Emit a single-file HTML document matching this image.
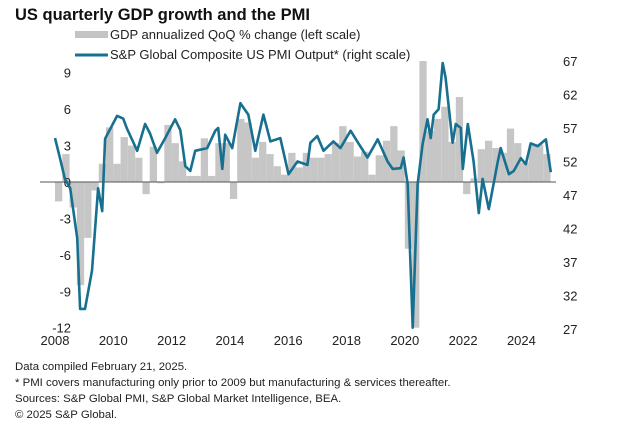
<!DOCTYPE html>
<html><head><meta charset="utf-8"><style>
body{margin:0;background:#fff;width:642px;height:433px;overflow:hidden;font-family:"Liberation Sans",sans-serif}
svg{display:block}
</style></head><body>
<svg id="chart" width="642" height="433">
<text x="15" y="20" font-size="16.5" font-weight="bold" fill="#111">US quarterly GDP growth and the PMI</text>
<g>
<rect x="75" y="31" width="33" height="7" fill="#c4c4c4"/>
<text x="110" y="39" font-size="13" fill="#222">GDP annualized QoQ % change (left scale)</text>
<line x1="75" y1="55" x2="108" y2="55" stroke="#17708f" stroke-width="3"/>
<text x="110" y="59" font-size="13" fill="#222">S&amp;P Global Composite US PMI Output* (right scale)</text>
</g>
<g id="bars"></g><g id="axes"></g><g id="line"></g>
<g font-size="11.4" fill="#222">
<text x="15" y="370">Data compiled February 21, 2025.</text>
<text x="15" y="386">* PMI covers manufacturing only prior to 2009 but manufacturing &amp; services thereafter.</text>
<text x="15" y="402">Sources: S&amp;P Global PMI, S&amp;P Global Market Intelligence, BEA.</text>
<text x="15" y="418">© 2025 S&amp;P Global.</text>
</g>
</svg>
<script>
const gdpQuarters=[2008,2008.25,2008.5,2008.75,2009,2009.25,2009.5,2009.75,2010,2010.25,2010.5,2010.75,2011,2011.25,2011.5,2011.75,2012,2012.25,2012.5,2012.75,2013,2013.25,2013.5,2013.75,2014,2014.25,2014.5,2014.75,2015,2015.25,2015.5,2015.75,2016,2016.25,2016.5,2016.75,2017,2017.25,2017.5,2017.75,2018,2018.25,2018.5,2018.75,2019,2019.25,2019.5,2019.75,2020,2020.25,2020.5,2020.75,2021,2021.25,2021.5,2021.75,2022,2022.25,2022.5,2022.75,2023,2023.25,2023.5,2023.75,2024,2024.25,2024.5,2024.75];
const gdpValues=[-1.6,2.3,-2.1,-8.5,-4.6,-0.7,1.5,4.5,1.5,3.7,3.0,2.0,-1.0,2.9,-0.1,4.7,3.2,1.7,0.5,0.5,3.6,0.5,3.2,3.2,-1.4,5.2,4.9,2.0,3.3,2.3,1.3,0.6,2.4,1.2,2.4,2.0,2.0,2.3,3.2,4.6,3.3,2.1,2.5,0.6,2.2,3.4,4.6,2.6,-5.5,-28.0,35.0,4.2,5.2,6.2,3.3,7.0,-1.0,0.3,2.7,3.4,2.8,2.4,4.4,3.2,1.6,3.0,3.1,2.3];
const pmiDates=[2008.0,2008.17,2008.34,2008.52,2008.76,2008.86,2009.03,2009.27,2009.48,2009.62,2009.72,2010.13,2010.34,2010.47,2010.82,2011.09,2011.26,2011.5,2011.78,2012.12,2012.3,2012.47,2012.64,2012.81,2013.22,2013.5,2013.6,2013.74,2013.84,2014.08,2014.36,2014.63,2014.87,2015.15,2015.39,2015.73,2016.01,2016.32,2016.66,2016.76,2017.0,2017.21,2017.55,2017.79,2018.14,2018.41,2018.72,2019.07,2019.41,2019.58,2019.86,2019.96,2020.1,2020.27,2020.44,2020.61,2020.78,2020.89,2020.99,2021.16,2021.3,2021.4,2021.64,2021.75,2021.92,2021.99,2022.16,2022.36,2022.54,2022.67,2022.88,2023.19,2023.29,2023.57,2023.74,2023.98,2024.15,2024.32,2024.56,2024.84,2025.01];
const pmiValues=[55.5,52.5,49.4,48,40.6,30,30,35.7,48,44.6,55.4,58.8,58.4,56.9,53.6,57.6,56.2,53.3,55.5,58.3,56.7,51.3,50.6,53.6,54,56.6,57,50.9,56,54,60.7,59,53.6,59,55,55.5,50.1,52,51.5,54.8,55.8,53.6,55,54,56.6,54.7,52.6,55.3,52,50.9,51,52.6,48.6,27.2,48.6,54.6,58.3,55.5,59,59.8,66.7,64.5,54.8,57.6,57,50.9,57.6,52,44.3,49.4,44.9,52,54,50.1,50.6,52.5,51.6,54.7,54.3,55.3,50.4];
const leftTicks=[9,6,3,0,-3,-6,-9,-12];
const rightTicks=[67,62,57,52,47,42,37,32,27];
const yearTicks=[2008,2010,2012,2014,2016,2018,2020,2022,2024];

const NS='http://www.w3.org/2000/svg';
const X0=55,PX=29.15,PL=40,PR=556,PT=61,PB=328;
const xs=t=>X0+(t-2008)*PX;
const yL=v=>182-v*12.14;
const yR=v=>61+(67-v)*6.7;
function mk(tag,attrs,parent){const e=document.createElementNS(NS,tag);for(const k in attrs)e.setAttribute(k,attrs[k]);parent.appendChild(e);return e;}
const bars=document.getElementById('bars'),axes=document.getElementById('axes'),line=document.getElementById('line');
gdpQuarters.forEach((q,i)=>{
  const v=Math.max(-12,Math.min(10,gdpValues[i]));
  const y1=Math.max(PT,yL(Math.max(v,0))),y2=Math.min(PB,yL(Math.min(v,0)));
  const r=mk('rect',{x:xs(q),y:y1,width:PX/4,height:Math.max(0,y2-y1),fill:'#c6c6c6'},bars);
  
  
});
const zl=mk('line',{x1:PL,x2:PR,y1:yL(0),y2:yL(0),stroke:'#555','stroke-width':1},axes);


leftTicks.forEach(v=>{
  const t=mk('text',{x:71,y:yL(v)+5,'text-anchor':'end','font-size':13,fill:'#222'},axes);t.textContent=v;
  
  
});
rightTicks.forEach(v=>{
  const t=mk('text',{x:563,y:yR(v)+5,'font-size':13,fill:'#222'},axes);t.textContent=v;
  
  
});
yearTicks.forEach(v=>{
  const t=mk('text',{x:xs(v),y:345,'text-anchor':'middle','font-size':13,fill:'#222'},axes);t.textContent=v;
  
  
});
const p=mk('polyline',{points:pmiDates.map((d,i)=>xs(d).toFixed(1)+','+yR(pmiValues[i]).toFixed(1)).join(' '),fill:'none',stroke:'#17708f','stroke-width':2.6,'stroke-linejoin':'round'},line);


</script>
</body></html>
